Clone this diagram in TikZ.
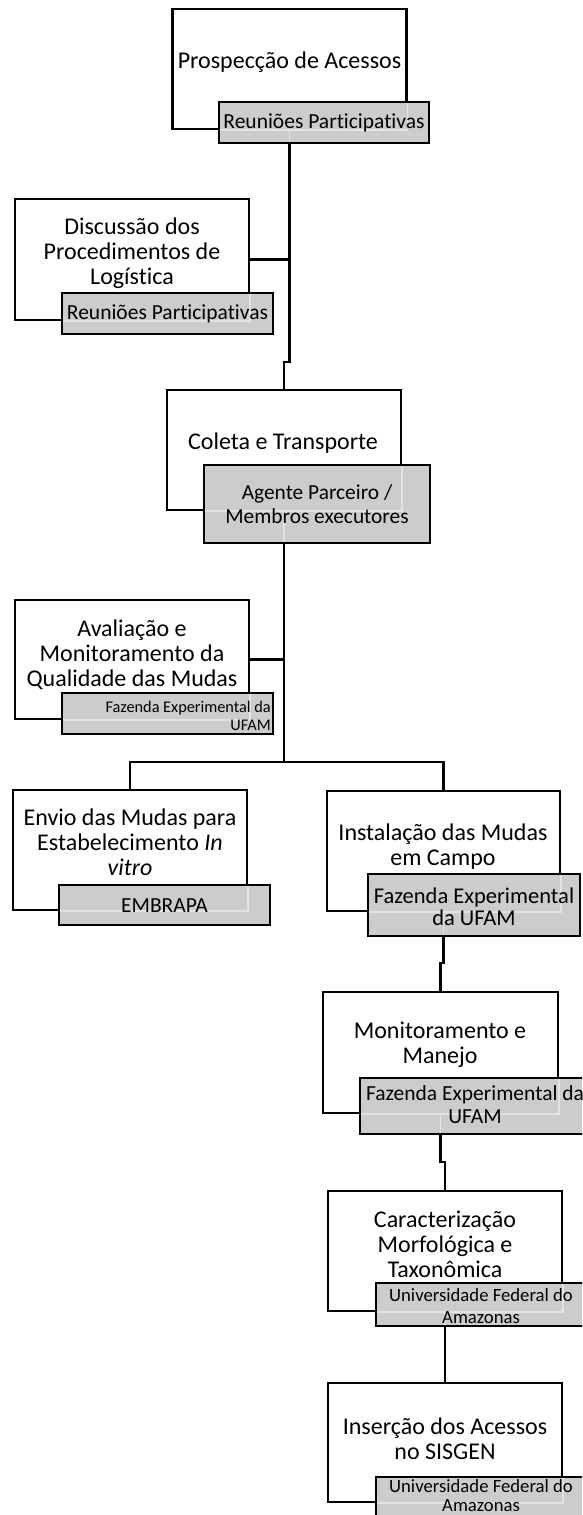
\documentclass[tikz,border=0pt]{standalone}
\usepackage{fontspec}
\setmainfont{Carlito}[Ligatures=NoCommon]
\begin{document}
\begin{tikzpicture}[x=1pt,y=-1pt,
  wbox/.style={draw, line width=2.3pt, fill=white, minimum width=234pt, minimum height=120pt, inner sep=0pt},
  gbox/.style={draw, line width=2.3pt, fill=black!20, inner sep=0pt},
  ghost/.style={draw=black!11, line width=1.6pt},
  link/.style={line width=2.3pt},
  lbl/.style={align=center, font=\fontsize{24}{25}\selectfont, inner sep=0pt},
  glbl/.style={align=center, inner sep=0pt}]
\useasboundingbox (0,0) rectangle (582,1515);
\clip (0,0) rectangle (582,1515);

% white boxes
\node[wbox] (w1) at (289.5,69) {};
\node[wbox, minimum height=121pt] (w2) at (132,259.5) {};
\node[wbox] (w3) at (284,450) {};
\node[wbox, minimum height=119pt] (w4) at (132,659.5) {};
\node[wbox] (w5) at (130,850) {};
\node[wbox, minimum width=233pt] (w6) at (443.5,851) {};
\node[wbox, minimum width=235pt, minimum height=121pt] (w7) at (440.5,1052.5) {};
\node[wbox] (w8) at (445,1251) {};
\node[wbox, minimum height=119pt] (w9) at (445,1442.5) {};

% junction coordinates
\coordinate (j1) at (0,362);
\coordinate (j2) at (0,762);
\coordinate (j3) at (0,963);
\coordinate (j4) at (0,1162);

% connectors
\draw[link] (w1.south) -- (w1.south |- j1) -| (w3.north);
\draw[link] (w2.east) -- (w2.east -| w1.south);
\draw[link] (w3.south) -- (w3.south |- j2);
\draw[link] (w4.east) -- (w4.east -| w3.south);
\draw[link] (w5.north) |- (w6.north |- j2) -- (w6.north);
\draw[link] (w6.south) -- (w6.south |- j3) -| (w7.north);
\draw[link] (w7.south) -- (w7.south |- j4) -| (w8.north);
\draw[link] (w8.south) -- (w9.north);

% gray boxes
\node[gbox, minimum width=210pt, minimum height=41pt,
  path picture={\draw[ghost] (w1.south west) rectangle (w1.north east);
                \draw[ghost] (w1.south) -- (w1.south |- path picture bounding box.south);}]
  (g1) at (324,122.5) {};
\node[gbox, minimum width=211pt, minimum height=41pt,
  path picture={\draw[ghost] (w2.south west) rectangle (w2.north east);}]
  (g2) at (167.5,313.5) {};
\node[gbox, minimum width=226pt, minimum height=78pt,
  path picture={\draw[ghost] (w3.south west) rectangle (w3.north east);
                \draw[ghost] (w3.south) -- (w3.south |- path picture bounding box.south);}]
  (g3) at (317,504) {};
\node[gbox, minimum width=211pt, minimum height=41pt,
  path picture={\draw[ghost] (w4.south west) rectangle (w4.north east);}]
  (g4) at (167.5,713.5) {};
\node[gbox, minimum width=211pt, minimum height=40pt,
  path picture={\draw[ghost] (w5.south west) rectangle (w5.north east);}]
  (g5) at (164.5,905) {};
\node[gbox, minimum width=212pt, minimum height=62pt,
  path picture={\draw[ghost] (w6.south west) rectangle (w6.north east);
                \draw[ghost] (w6.south) -- (w6.south |- path picture bounding box.south);}]
  (g6) at (474,905) {};
\node[gbox, minimum width=230pt, minimum height=56pt,
  path picture={\draw[ghost] (w7.south west) rectangle (w7.north east);
                \draw[ghost] (w7.south) -- (w7.south |- path picture bounding box.south);}]
  (g7) at (475,1106) {};
\node[gbox, minimum width=210pt, minimum height=43pt,
  path picture={\draw[ghost] (w8.south west) rectangle (w8.north east);
                \draw[ghost] (w8.south) -- (w8.south |- path picture bounding box.south);}]
  (g8) at (481,1304.5) {};
\node[gbox, minimum width=210pt, minimum height=48pt,
  path picture={\draw[ghost] (w9.south west) rectangle (w9.north east);}]
  (g9) at (481,1501) {};

% white box texts
\node[lbl] (t1) at (289.5,62) {Prospecção de Acessos};
\node[lbl] (t2) at (132,253) {Discussão dos\\Procedimentos de\\Logística};
\node[lbl] (t3) at (283,443) {Coleta e Transporte};
\node[lbl] (t4) at (132,655) {Avaliação e\\Monitoramento da\\Qualidade das Mudas};
\node[lbl] (t5) at (130,842) {Envio das Mudas para\\Estabelecimento \textit{In}\\\textit{vitro}};
\node[lbl] (t6) at (443,847) {Instalação das Mudas\\em Campo};
\node[lbl] (t7) at (440,1045) {Monitoramento e\\Manejo};
\node[lbl] (t8) at (445,1244) {Caracterização\\Morfológica e\\Taxonômica};
\node[lbl] (t9) at (445,1439) {Inserção dos Acessos\\no SISGEN};

% gray box texts
\node[glbl, font=\fontsize{21.5}{23}\selectfont] (s1) at (g1) {Reuniões Participativas};
\node[glbl, font=\fontsize{21.5}{23}\selectfont] (s2) at (g2) {Reuniões Participativas};
\node[glbl, font=\fontsize{21.4}{24}\selectfont] (s3) at (g3) {Agente Parceiro /\\Membros executores};
\node[glbl, align=right, anchor=east, font=\fontsize{16.3}{18}\selectfont] (s4) at (271,716) {Fazenda Experimental da\\UFAM};
\node[glbl, font=\fontsize{21.5}{23}\selectfont] (s5) at (164.5,906) {EMBRAPA};
\node[glbl, font=\fontsize{22.5}{22}\selectfont] (s6) at (474,907) {Fazenda Experimental\\da UFAM};
\node[glbl, font=\fontsize{21.5}{23}\selectfont] (s7) at (475,1105) {Fazenda Experimental da\\UFAM};
\node[glbl, font=\fontsize{18.7}{22}\selectfont] (s8) at (481,1306) {Universidade Federal do\\Amazonas};
\node[glbl, font=\fontsize{18.7}{19}\selectfont] (s9) at (481,1496) {Universidade Federal do\\Amazonas};
\end{tikzpicture}
\end{document}
